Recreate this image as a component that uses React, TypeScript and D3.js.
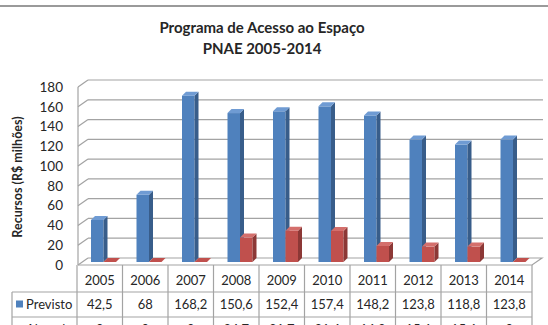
import * as d3 from "d3";
import React from "react";

const years = ["2005", "2006", "2007", "2008", "2009", "2010", "2011", "2012", "2013", "2014"];
const previsto = [42.5, 68, 168.2, 150.6, 152.4, 157.4, 148.2, 123.8, 118.8, 123.8];
const alocado = [0, 0, 0, 24.7, 31.7, 31.4, 16.2, 15.6, 15.6, 0];
const previstoLabels = ["42,5", "68", "168,2", "150,6", "152,4", "157,4", "148,2", "123,8", "118,8", "123,8"];
const alocadoLabels = ["0", "0", "0", "24,7", "31,7", "31,4", "16,2", "15,6", "15,6", "0"];
const yTicks = [0, 20, 40, 60, 80, 100, 120, 140, 160, 180];

const width = 548;
const height = 325;
const font = "Lato, 'Open Sans', sans-serif";
const grid = "#a3a3a3";
const ink = "#262626";

// wall depth, bar depth
const wdx = 10;
const wdy = -7;
const bdx = 4;
const bdy = -4;

const x = d3.scaleBand().domain(years).range([77, 532]);
const yFront = d3.scaleLinear().domain([0, 180]).range([265, 87]);
const yBar = (v: number) => yFront(v) - 3;

const barW = 12.5;
const barOff = 14;

const series = [
  { name: "Previsto", values: previsto, labels: previstoLabels, front: "#4f81bd", side: "#385d8a", top: "#6f9bd3" },
  { name: "Alocado", values: alocado, labels: alocadoLabels, front: "#c0504d", side: "#8c3836", top: "#d46f6c" },
];

const Bar = ({ x0, v, c }: { x0: number; v: number; c: (typeof series)[0] }) => {
  const yt = yBar(v);
  const yb = yBar(0);
  const top = `M${x0},${yt}L${x0 + bdx},${yt + bdy}L${x0 + barW + bdx},${yt + bdy}L${x0 + barW},${yt}Z`;
  if (v === 0) return <path d={top} fill={c.front} />;
  const side = `M${x0 + barW},${yt}L${x0 + barW + bdx},${yt + bdy}L${x0 + barW + bdx},${yb + bdy}L${x0 + barW},${yb}Z`;
  return (
    <g>
      <rect x={x0} y={yt} width={barW} height={yb - yt} fill={c.front} />
      <path d={side} fill={c.side} />
      <path d={top} fill={c.top} />
    </g>
  );
};

export default function App() {
  const left = x.range()[0];
  const right = x.range()[1];
  const rowY = [265, 292, 317, 342];
  return (
    <svg width={width} height={height} style={{ position: "absolute", left: 0, top: 0, background: "#fff" }}>
      <line x1={0} x2={width} y1={6} y2={6} stroke="#9a9a9a" strokeWidth={2} />

      <text x={262} y={33} textAnchor="middle" fontFamily={font} fontWeight="bold" fontSize={15} fill={ink}>
        Programa de Acesso ao Espaço
      </text>
      <text x={262} y={54} textAnchor="middle" fontFamily={font} fontWeight="bold" fontSize={15} fill={ink}>
        PNAE 2005-2014
      </text>

      <text
        transform={`translate(22,177) rotate(-90)`}
        textAnchor="middle"
        fontFamily={font}
        fontWeight="bold"
        fontSize={12.5}
        fill={ink}
      >
        Recursos (R$ milhões)
      </text>

      {/* walls */}
      {yTicks.map((t) => (
        <g key={t}>
          {t > 0 && (
            <line x1={left + 1 + wdx} x2={right + wdx + 1} y1={yFront(t) + wdy} y2={yFront(t) + wdy} stroke={grid} strokeWidth={1.2} />
          )}
          <line x1={left + 1} y1={yFront(t)} x2={left + 1 + wdx} y2={yFront(t) + wdy} stroke={grid} strokeWidth={1.2} />
          <text x={63} y={yFront(t)} dy="0.35em" textAnchor="end" fontFamily={font} fontSize={13.5} fill={ink}>
            {t}
          </text>
        </g>
      ))}
      <line x1={left + 1} x2={left + 1} y1={yFront(180)} y2={yFront(0)} stroke={grid} strokeWidth={1.2} />
      <path
        d={`M${left + 1},${yFront(0)}L${right},${yFront(0)}L${right + wdx},${yFront(0) + wdy}L${left + 1 + wdx},${yFront(0) + wdy}`}
        fill="none"
        stroke={grid}
        strokeWidth={1.2}
      />

      {/* bars */}
      {years.map((yr, i) => (
        <g key={yr}>
          {series.map((s, j) => (
            <Bar key={s.name} x0={(x(yr) as number) + barOff + j * barW} v={s.values[i]} c={s} />
          ))}
        </g>
      ))}

      {/* data table */}
      <g stroke={grid} strokeWidth={1.2}>
        {years.map((yr) => (
          <line key={yr} x1={x(yr)} x2={x(yr)} y1={rowY[0]} y2={height} />
        ))}
        <line x1={right} x2={right} y1={rowY[0]} y2={height} />
        <line x1={12} x2={12} y1={rowY[1]} y2={height} />
        <line x1={12} x2={right} y1={rowY[1]} y2={rowY[1]} />
        <line x1={12} x2={right} y1={rowY[2]} y2={rowY[2]} />
      </g>
      {years.map((yr) => (
        <text
          key={yr}
          x={(x(yr) as number) + x.bandwidth() / 2}
          y={(rowY[0] + rowY[1]) / 2 + 2}
          dy="0.35em"
          textAnchor="middle"
          fontFamily={font}
          fontSize={13}
          fill={ink}
        >
          {yr}
        </text>
      ))}
      {series.map((s, j) => (
        <g key={s.name}>
          <rect x={16} y={(rowY[j + 1] + rowY[j + 2]) / 2 - 4} width={7} height={7} fill={s.front} />
          <text x={26} y={(rowY[j + 1] + rowY[j + 2]) / 2} dy="0.35em" fontFamily={font} fontSize={13} fill={ink}>
            {s.name}
          </text>
          {years.map((yr, i) => (
            <text
              key={yr}
              x={(x(yr) as number) + x.bandwidth() / 2}
              y={(rowY[j + 1] + rowY[j + 2]) / 2}
              dy="0.35em"
              textAnchor="middle"
              fontFamily={font}
              fontSize={13}
              fill={ink}
            >
              {s.labels[i]}
            </text>
          ))}
        </g>
      ))}
    </svg>
  );
}
